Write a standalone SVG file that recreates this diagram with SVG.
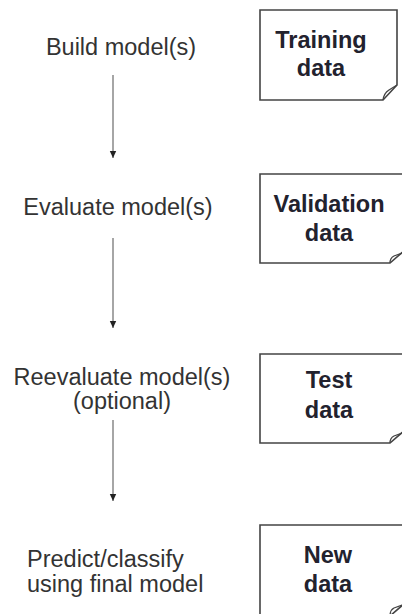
<svg xmlns="http://www.w3.org/2000/svg" width="402" height="614" viewBox="0 0 402 614">
<defs>
<marker id="ah" viewBox="0 0 8 8" refX="7" refY="4" markerWidth="8" markerHeight="8" markerUnits="userSpaceOnUse" orient="auto">
<path d="M0,0.8 L7,4 L0,7.2 Z" fill="#222"/>
</marker>
<style>
.lbl{font-family:"Liberation Sans",Arial,sans-serif;font-size:23.5px;fill:#333;}
.dat{font-family:"Liberation Sans",Arial,sans-serif;font-size:23.5px;font-weight:bold;fill:#22222e;text-anchor:middle;}
.doc{fill:#fff;stroke:#444;stroke-width:1.6;}
.curl{fill:none;stroke:#444;stroke-width:1.3;}
.conn{stroke:#888;stroke-width:1.5;fill:none;}
</style>
</defs>
<rect width="402" height="614" fill="#fff"/>
<g id="connectors">
<line class="conn" x1="113" y1="75" x2="113" y2="158" marker-end="url(#ah)"/>
<line class="conn" x1="113" y1="238" x2="113" y2="328" marker-end="url(#ah)"/>
<line class="conn" x1="113" y1="420" x2="113" y2="501" marker-end="url(#ah)"/>
</g>
<g id="step-build">
<text class="lbl" x="121" y="55" text-anchor="middle">Build model(s)</text>
</g>
<g id="step-evaluate">
<text class="lbl" x="118" y="215" text-anchor="middle">Evaluate model(s)</text>
</g>
<g id="step-reevaluate">
<text class="lbl" x="122" y="385" text-anchor="middle">Reevaluate model(s)</text>
<text class="lbl" x="122" y="409" text-anchor="middle">(optional)</text>
</g>
<g id="step-predict">
<text class="lbl" x="27" y="567">Predict/classify</text>
<text class="lbl" x="27" y="592">using final model</text>
</g>
<g id="training-data">
<path class="doc" d="M260,10 H397 V85 L383,100 H260 Z"/>
<path class="curl" d="M397,85 L389,90 Q384,93 383,100"/>
<text class="dat" x="321" y="48">Training</text>
<text class="dat" x="321" y="76">data</text>
</g>
<g id="validation-data">
<path class="doc" d="M260,174 H405 V250 L390,263 H260 Z"/>
<path class="curl" d="M402,253 L394,256 Q390,258 390,263"/>
<text class="dat" x="329" y="212">Validation</text>
<text class="dat" x="329" y="241">data</text>
</g>
<g id="test-data">
<path class="doc" d="M260,354 H405 V430 L390,443 H260 Z"/>
<path class="curl" d="M402,433 L394,436 Q390,438 390,443"/>
<text class="dat" x="329" y="388">Test</text>
<text class="dat" x="329" y="418">data</text>
</g>
<g id="new-data">
<path class="doc" d="M260,525 H405 V603 L390,616 H260 Z"/>
<path class="curl" d="M402,605 L394,608 Q390,610 390,616"/>
<text class="dat" x="328" y="563">New</text>
<text class="dat" x="328" y="592">data</text>
</g>
</svg>
